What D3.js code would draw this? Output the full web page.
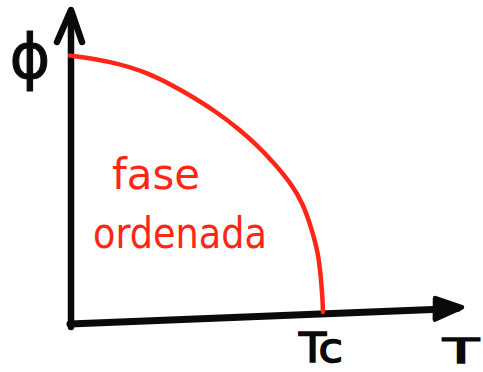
<!DOCTYPE html>
<html>
<head>
<meta charset="utf-8">
<script src="https://cdn.jsdelivr.net/npm/d3@7"></script>
<style>
  html, body { margin: 0; padding: 0; background: #fff; }
  svg { display: block; }
</style>
</head>
<body>
<svg id="chart" width="483" height="372"></svg>
<script>
// Order parameter sketch: phi falls from its saturated value to zero at Tc
const temperature = [0, 0.158, 0.316, 0.447, 0.581, 0.672, 0.739, 0.803, 0.870, 0.921, 0.957, 0.981, 0.992, 0.999, 1.0];
const orderParam  = [1.0, 0.980, 0.935, 0.868, 0.790, 0.723, 0.667, 0.604, 0.529, 0.451, 0.350, 0.265, 0.175, 0.089, 0.045];
const xTickValues = [1.0];
const xTickLabels = ["Tc"];
const axisLabels  = { x: "T", y: "ϕ" };
const phaseLabel  = ["fase", "ordenada"];
const tMax = 1.55;
const phiMax = 1.17;

const red = "#ff2616";
const ink = "#0a0a0a";

const svg = d3.select("#chart");
const x = d3.scaleLinear().domain([0, tMax]).range([70, 462]);
const y = d3.scaleLinear().domain([0, phiMax]).range([324, 10]);

// slight hand tilt of the temperature axis
const tilt = -2.3;

// vertical axis with arrow head
const yAxis = svg.append("g");
yAxis.append("line")
  .attr("x1", x(0) + 1).attr("y1", y(0) + 3)
  .attr("x2", x(0) + 1).attr("y2", y(phiMax) + 4)
  .attr("stroke", ink).attr("stroke-width", 6.5).attr("stroke-linecap", "round");
yAxis.append("path")
  .attr("d", `M${x(0) - 13},${y(phiMax) + 32} L${x(0) + 1},${y(phiMax)} L${x(0) + 12},${y(phiMax) + 32}`)
  .attr("fill", "none").attr("stroke", ink).attr("stroke-width", 6.5)
  .attr("stroke-linejoin", "round").attr("stroke-linecap", "round");

// horizontal axis with arrow head, rotated about the origin
const xAxis = svg.append("g")
  .attr("transform", `rotate(${tilt},${x(0)},${y(0)})`);
xAxis.append("line")
  .attr("x1", x(0)).attr("y1", y(0))
  .attr("x2", x(tMax) - 4).attr("y2", y(0))
  .attr("stroke", ink).attr("stroke-width", 7).attr("stroke-linecap", "round");
xAxis.append("path")
  .attr("d", `M${x(tMax) - 26},${y(0) - 11} L${x(tMax)},${y(0) - 1} L${x(tMax) - 27},${y(0) + 10} Z`)
  .attr("fill", ink).attr("stroke", ink).attr("stroke-width", 5)
  .attr("stroke-linejoin", "round");

// order parameter curve, smoothed as a B-spline through the points
const line = d3.line()
  .x((d, i) => x(temperature[i]))
  .y(d => y(d))
  .curve(d3.curveBasis);
svg.append("path")
  .attr("d", line(orderParam))
  .attr("fill", "none")
  .attr("stroke", red)
  .attr("stroke-width", 4.5)
  .attr("stroke-linecap", "round");

const hand = "'DejaVu Sans', sans-serif";

// tick label at Tc
svg.selectAll(".tick-label")
  .data(xTickValues)
  .enter().append("text")
  .attr("class", "tick-label")
  .attr("x", d => x(d) - 24)
  .attr("y", 362)
  .attr("font-family", hand)
  .attr("font-size", 40)
  .attr("fill", ink)
  .attr("stroke", ink)
  .attr("stroke-width", 1.5)
  .attr("textLength", 44)
  .attr("lengthAdjust", "spacingAndGlyphs")
  .text((d, i) => xTickLabels[i]);

// axis titles
svg.append("text")
  .attr("x", 443).attr("y", 363)
  .attr("font-family", hand).attr("font-size", 34).attr("fill", ink)
  .attr("stroke", ink).attr("stroke-width", 1.5)
  .attr("textLength", 36).attr("lengthAdjust", "spacingAndGlyphs")
  .text(axisLabels.x);
svg.append("text")
  .attr("x", 30).attr("y", 78)
  .attr("text-anchor", "middle")
  .attr("font-family", hand).attr("font-size", 62).attr("fill", ink)
  .attr("stroke", ink).attr("stroke-width", 1)
  .text(axisLabels.y);

// phase annotation
svg.append("text")
  .attr("x", 112).attr("y", 189)
  .attr("font-family", hand).attr("font-size", 42).attr("fill", red)
  .attr("textLength", 88).attr("lengthAdjust", "spacingAndGlyphs")
  .text(phaseLabel[0]);
svg.append("text")
  .attr("x", 93).attr("y", 248)
  .attr("font-family", hand).attr("font-size", 42).attr("fill", red)
  .attr("textLength", 174).attr("lengthAdjust", "spacingAndGlyphs")
  .text(phaseLabel[1]);
</script>
</body>
</html>
